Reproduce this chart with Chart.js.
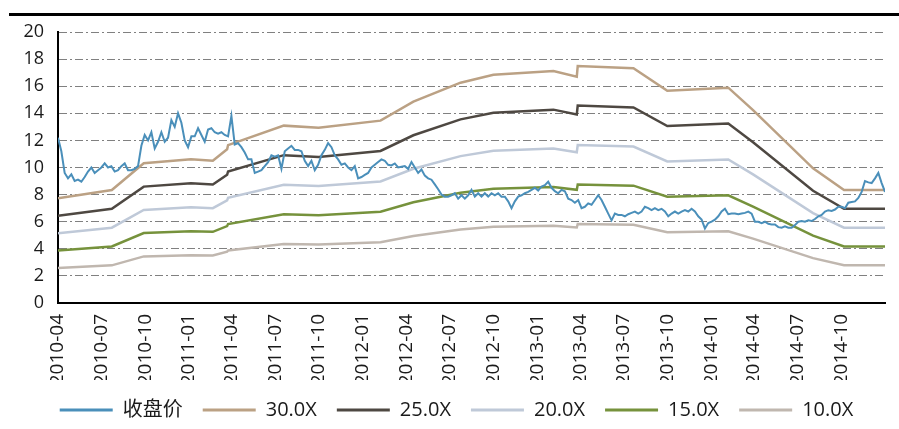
<!DOCTYPE html>
<html>
<head>
<meta charset="utf-8">
<script src="https://cdn.jsdelivr.net/npm/chart.js@4/dist/chart.umd.min.js"></script>
<style>
  html, body { margin: 0; padding: 0; background: #fff; }
</style>
</head>
<body>
<canvas class="js-chart" width="899" height="429"></canvas>
<script>
// x values are days since 2010-04-01
const quarterDays = [0, 91, 183, 275, 365, 456, 548, 640, 731, 822, 914, 1006, 1096, 1187, 1279, 1371, 1461, 1552, 1644];
const quarterLabels = ['2010-04', '2010-07', '2010-10', '2011-01', '2011-04', '2011-07', '2011-10', '2012-01', '2012-04',
  '2012-07', '2012-10', '2013-01', '2013-04', '2013-07', '2013-10', '2014-01', '2014-04', '2014-07', '2014-10'];

// weekly close (one value every 7 days from 2010-04-01)
const closeWeekly = [
  12.2, 11.2, 9.6, 9.2, 9.5, 9.0, 9.1, 8.95, 9.3, 9.7,
  10.0, 9.6, 9.8, 10.0, 10.3, 10.0, 10.1, 9.7, 9.8, 10.1,
  10.3, 9.8, 9.8, 9.9, 10.1, 11.6, 12.4, 12.0, 12.6, 11.4,
  11.9, 12.6, 11.9, 12.2, 13.5, 13.0, 14.0, 13.3, 12.0, 11.5,
  12.3, 12.3, 12.9, 12.4, 11.9, 12.8, 12.9, 12.6, 12.5, 12.6,
  12.4, 12.3, 13.8, 11.7, 11.8, 11.5, 11.1, 10.6, 10.6, 9.6,
  9.7, 9.8, 10.1, 10.4, 10.9, 10.8, 10.9, 9.9, 11.2, 11.4,
  11.6, 11.3, 11.3, 11.2, 10.5, 10.1, 10.5, 9.8, 10.2, 10.9,
  11.3, 11.8, 11.5, 10.9, 10.6, 10.2, 10.3, 10.0, 9.8, 10.1,
  9.2, 9.3, 9.45, 9.6, 10.0, 10.2, 10.4, 10.6, 10.5, 10.2,
  10.15, 10.3, 10.0, 10.05, 10.1, 9.9, 10.4, 10.0, 9.6, 9.85,
  9.4, 9.2, 9.1, 8.75, 8.4, 8.0, 7.85, 7.85, 7.95, 8.1,
  7.7, 7.95, 7.7, 7.95, 8.35, 7.85, 8.1, 7.85, 8.1, 7.85,
  8.1, 7.95, 8.1, 7.85, 7.85, 7.5, 7.0, 7.5, 7.85, 7.95,
  8.1, 8.2, 8.35, 8.5, 8.3, 8.6, 8.7, 8.95, 8.5, 8.25,
  8.1, 8.35, 8.25, 7.7, 7.6, 7.4, 7.6, 7.0, 7.1, 7.35,
  7.25, 7.6, 7.95, 7.6, 7.1, 6.6, 6.1, 6.6, 6.5, 6.5,
  6.4, 6.55, 6.65, 6.75, 6.6, 6.75, 7.1, 7.0, 6.85, 7.0,
  6.85, 6.95, 6.75, 6.4, 6.6, 6.75, 6.6, 6.75, 6.85, 6.75,
  6.95, 6.75, 6.4, 6.15, 5.5, 5.9, 6.0, 6.15, 6.4, 6.75,
  6.95, 6.55, 6.6, 6.6, 6.55, 6.6, 6.65, 6.75, 6.6, 6.0,
  6.0, 5.9, 6.0, 5.85, 5.8, 5.8, 5.6, 5.55, 5.65, 5.55,
  5.55, 5.75, 6.0, 6.05, 6.0, 6.1, 6.05, 6.2, 6.4, 6.5,
  6.75, 6.85, 6.8, 6.9, 7.1, 7.1, 7.0, 7.4, 7.45, 7.5,
  7.75, 8.2, 9.0, 8.9, 8.85, 9.2, 9.6, 8.85, 8.2
];

// PE band turning points
const bandDays = [0, 113, 180, 279, 325, 355, 357, 474, 547, 677, 746, 845, 914, 1040, 1089, 1091, 1208, 1279, 1407, 1459, 1585, 1650, 1736];
const band30 = [7.73, 8.34, 10.31, 10.60, 10.50, 11.35, 11.65, 13.09, 12.94, 13.46, 14.86, 16.26, 16.85, 17.12, 16.70, 17.49, 17.32, 15.67, 15.89, 14.24, 9.94, 8.34, 8.34];
const band25 = [6.44, 6.95, 8.59, 8.83, 8.75, 9.46, 9.71, 10.91, 10.78, 11.22, 12.38, 13.55, 14.04, 14.27, 13.92, 14.58, 14.43, 13.06, 13.24, 11.87, 8.28, 6.95, 6.95];
const band20 = [5.15, 5.56, 6.87, 7.07, 7.00, 7.57, 7.77, 8.73, 8.63, 8.97, 9.91, 10.84, 11.23, 11.41, 11.13, 11.66, 11.55, 10.45, 10.59, 9.49, 6.63, 5.56, 5.56];
const band15 = [3.87, 4.17, 5.16, 5.30, 5.25, 5.68, 5.83, 6.55, 6.47, 6.73, 7.43, 8.13, 8.43, 8.56, 8.35, 8.75, 8.66, 7.84, 7.95, 7.12, 4.97, 4.17, 4.17];
const band10 = [2.58, 2.78, 3.44, 3.53, 3.50, 3.78, 3.88, 4.36, 4.31, 4.49, 4.95, 5.42, 5.62, 5.71, 5.57, 5.83, 5.77, 5.22, 5.30, 4.75, 3.31, 2.78, 2.78];

const fontFamily = "'Open Sans', 'Noto Sans CJK SC', sans-serif";

const toPoints = function(days, values) {
  return values.map((v, i) => ({ x: days[i], y: v }));
};

const makeBand = function(label, values, color) {
  return {
    label: label,
    data: toPoints(bandDays, values),
    borderColor: color,
    backgroundColor: color,
    borderWidth: 2.5,
    pointRadius: 0,
    tension: 0
  };
};

// thick rule above the chart
const topRule = {
  id: 'topRule',
  beforeDraw(chart) {
    const ctx = chart.ctx;
    ctx.save();
    ctx.fillStyle = '#000';
    ctx.fillRect(9, 13, chart.width - 9, 3);
    ctx.restore();
  }
};

// keep the legend strip short so the axis labels get the room,
// and nudge it a bit to the right like the original
const legendTweak = {
  id: 'legendTweak',
  afterInit(chart) {
    const legend = chart.legend;
    const fit = legend.fit;
    legend.fit = function() {
      fit.call(this);
      this.height = 49;
    };
  },
  afterLayout(chart) {
    chart.legend.left += 28;
  }
};

document.addEventListener('DOMContentLoaded', function() {
  const ctx = document.querySelector('.js-chart').getContext('2d');
  new Chart(ctx, {
    type: 'line',
    data: {
      datasets: [
        {
          label: '收盘价',
          data: closeWeekly.map((v, i) => ({ x: i * 7, y: v })),
          borderColor: '#4a8fba',
          backgroundColor: '#4a8fba',
          borderWidth: 2,
          pointRadius: 0,
          tension: 0
        },
        makeBand('30.0X', band30, '#bba184'),
        makeBand('25.0X', band25, '#4e4842'),
        makeBand('20.0X', band20, '#bfc9d8'),
        makeBand('15.0X', band15, '#76923c'),
        makeBand('10.0X', band10, '#c0b7af')
      ]
    },
    plugins: [topRule, legendTweak],
    options: {
      responsive: false,
      animation: false,
      devicePixelRatio: 1,
      layout: { padding: { top: 32, right: 14, left: 0, bottom: 0 } },
      plugins: {
        tooltip: { enabled: false },
        legend: {
          position: 'bottom',
          labels: {
            boxWidth: 53,
            boxHeight: 3,
            padding: 20,
            color: '#1a1a1a',
            font: { family: fontFamily, size: 20 },
            generateLabels(chart) {
              return Chart.defaults.plugins.legend.labels.generateLabels(chart).map(item => {
                item.fillStyle = item.strokeStyle;
                item.lineWidth = 0;
                return item;
              });
            }
          }
        }
      },
      scales: {
        x: {
          type: 'linear',
          min: 0,
          max: 1736,
          afterBuildTicks: (scale) => {
            scale.ticks = quarterDays.map(d => ({ value: d }));
          },
          afterFit: (scale) => { scale.height = 77; },
          grid: { display: false, drawTicks: false },
          border: { color: '#000', width: 2 },
          ticks: {
            autoSkip: false,
            minRotation: 90,
            maxRotation: 90,
            padding: 11,
            color: '#1a1a1a',
            font: { family: fontFamily, size: 19 },
            callback: (value, index) => quarterLabels[index]
          }
        },
        y: {
          min: 0,
          max: 20,
          afterFit: (scale) => { scale.width = 58; },
          grid: {
            color: (c) => c.tick.value === 0 ? 'rgba(0,0,0,0)' : '#808080',
            lineWidth: 1,
            drawTicks: false
          },
          border: { color: '#000', width: 2, dash: [8, 3, 2, 3] },
          ticks: {
            stepSize: 2,
            padding: 14,
            color: '#1a1a1a',
            font: { family: fontFamily, size: 18 }
          }
        }
      }
    }
  });
});
</script>
</body>
</html>
